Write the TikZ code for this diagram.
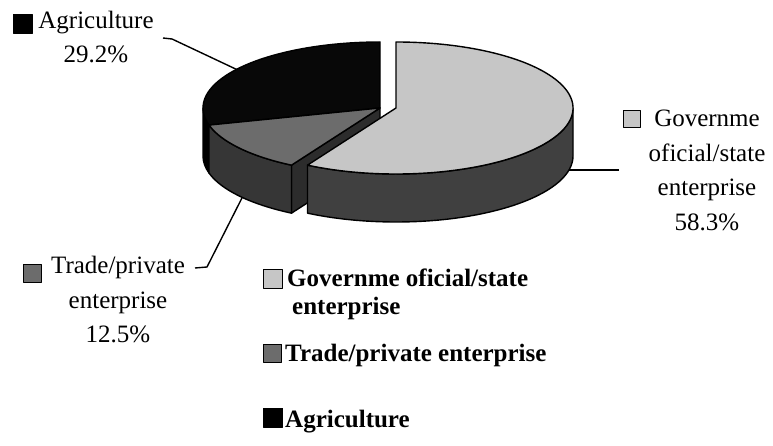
\documentclass[tikz,border=0pt]{standalone}
\usepackage{fontspec}
\setmainfont{Liberation Serif}
\definecolor{govtop}{HTML}{C6C6C6}
\definecolor{govside}{HTML}{404040}
\definecolor{trdtop}{HTML}{6C6C6C}
\definecolor{trdside}{HTML}{363636}
\definecolor{trdcut}{HTML}{2C2C2C}
\definecolor{agrtop}{HTML}{080808}
\begin{document}
\begin{tikzpicture}[x=1pt,y=1pt,line join=round,
  lbl/.style={font=\fontsize{25}{34.5}\selectfont,inner sep=0pt,align=center},
  leg/.style={font=\bfseries\fontsize{25}{28}\selectfont,inner sep=0pt,align=left},
  edge/.style={draw=black,line width=1.4pt},
  leader/.style={draw=black,line width=1.4pt},
  keybox/.style={draw=black,line width=1pt,inner sep=0pt,minimum size=#1},
  keybox/.default=18pt]
\useasboundingbox (0,0) rectangle (773,446);
\def\rx{177}\def\ry{66}\def\h{48}
% labels (base anchor = baseline of the last line)
\node[lbl,anchor=base] (agrlab) at (96,383) {Agriculture\\29.2\%};
\node[lbl,anchor=base] (govlab) at (707,215.5) {Governme\\oficial/state\\enterprise\\58.3\%};
\node[lbl,anchor=base] (trdlab) at (118,103) {Trade/private\\enterprise\\12.5\%};
\node[keybox=19pt,fill=black] (agrkey) at (22.5,422) {};
\node[keybox=17pt,fill=govtop] (govkey) at (631.5,326.5) {};
\node[keybox=18pt,fill=trdtop] (trdkey) at (32,172.5) {};
% legend
\node[keybox=19pt,fill=govtop] (lg1) at (272.5,167) {};
\node[leg,anchor=base west] (lt1) at (287,131) {Governme oficial/state\\\hspace*{5pt}enterprise};
\node[keybox=18pt,fill=trdtop] (lg2) at (272.5,92.5) {};
\node[leg,anchor=base west] (lt2) at (285,84) {Trade/private enterprise};
\node[keybox=19pt,fill=black] (lg3) at (273,28) {};
\node[leg,anchor=base west] (lt3) at (285,18) {Agriculture};
% leader lines
\coordinate (agrA) at (163,408);
\coordinate (agrP) at (242,374);
\coordinate (govA) at (619,276);
\coordinate (govP) at (566,276);
\coordinate (trdA) at (195,178);
\coordinate (trdP) at (245,254);
\draw[leader] (agrA) -- ++(9,-1) -- (agrP);
\draw[leader] (govA) -- (govP);
\draw[leader] (trdA) -- ++(12,1) -- (trdP);
% pie: agriculture and trade (centre C1)
\coordinate (C1) at (380,338);
\coordinate (C2) at (396,338);
\begin{scope}[shift={(C1)}]
  \path[edge,fill=trdcut] (0,0) -- (240:\rx pt and \ry pt) -- ++(0,-\h) -- (0,-\h) -- cycle;
  \path[edge,fill=black] (180:\rx pt and \ry pt) arc[start angle=180,end angle=195,x radius=\rx pt,y radius=\ry pt]
     -- ++(0,-\h) arc[start angle=195,end angle=180,x radius=\rx pt,y radius=\ry pt] -- cycle;
  \path[edge,fill=trdside] (195:\rx pt and \ry pt) arc[start angle=195,end angle=240,x radius=\rx pt,y radius=\ry pt]
     -- ++(0,-\h) arc[start angle=240,end angle=195,x radius=\rx pt,y radius=\ry pt] -- cycle;
  \path[edge,fill=agrtop] (0,0) -- (90:\rx pt and \ry pt) arc[start angle=90,end angle=195,x radius=\rx pt,y radius=\ry pt] -- cycle;
  \path[edge,fill=trdtop] (0,0) -- (195:\rx pt and \ry pt) arc[start angle=195,end angle=240,x radius=\rx pt,y radius=\ry pt] -- cycle;
\end{scope}
% pie: government (exploded, centre C2)
\begin{scope}[shift={(C2)}]
  \path[edge,fill=govside] (240:\rx pt and \ry pt) arc[start angle=240,end angle=360,x radius=\rx pt,y radius=\ry pt]
     -- ++(0,-\h) arc[start angle=360,end angle=240,x radius=\rx pt,y radius=\ry pt] -- cycle;
  \path[edge,fill=govtop] (0,0) -- (240:\rx pt and \ry pt) arc[start angle=240,end angle=450,x radius=\rx pt,y radius=\ry pt] -- cycle;
\end{scope}
\end{tikzpicture}
\end{document}
